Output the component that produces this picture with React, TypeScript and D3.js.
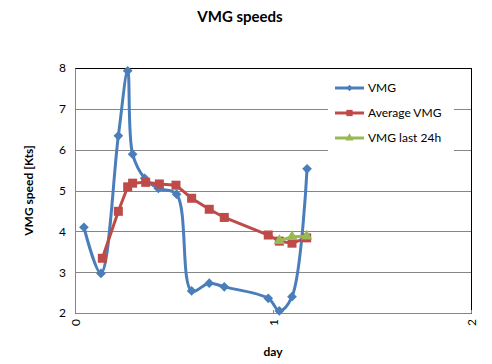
import React, { useEffect, useRef } from "react"
import * as d3 from "d3"

// VMG (smoothed)
const vmgDays = [0.045, 0.131, 0.219, 0.266, 0.291, 0.352, 0.421, 0.513, 0.589, 0.678, 0.754, 0.976, 1.032, 1.096, 1.172]
const vmgSpeeds = [4.1, 2.97, 6.34, 7.93, 5.89, 5.3, 5.05, 4.91, 2.54, 2.73, 2.64, 2.36, 2.05, 2.4, 5.53]

// Average VMG
const avgDays = [0.138, 0.219, 0.266, 0.291, 0.357, 0.426, 0.51, 0.589, 0.678, 0.754, 0.976, 1.032, 1.096, 1.17]
const avgSpeeds = [3.34, 4.49, 5.09, 5.18, 5.2, 5.16, 5.13, 4.81, 4.54, 4.34, 3.91, 3.76, 3.71, 3.84]

// VMG last 24h
const lastDays = [1.032, 1.096, 1.17]
const lastSpeeds = [3.77, 3.87, 3.88]

const yTicks = [2, 3, 4, 5, 6, 7, 8]
const xTicks = [0, 1, 2]

const colors = {
	vmg: "#4A7EBB",
	avg: "#BE4B48",
	last: "#98B954",
}

const font = "Lato, 'Open Sans', sans-serif"

const App = () => {
	const svgRef = useRef<SVGSVGElement>(null)
	const width = 492
	const height = 364

	useEffect(() => {
		const margin = { top: 68, right: 21, bottom: 51, left: 75 }
		const svg = d3.select(svgRef.current)
		svg.selectAll("*").remove()

		const x = d3
			.scaleLinear()
			.domain([0, 2])
			.range([margin.left, width - margin.right])
		const y = d3
			.scaleLinear()
			.domain([2, 8])
			.range([height - margin.bottom, margin.top])

		// title
		svg.append("text")
			.attr("x", 240)
			.attr("y", 22)
			.attr("text-anchor", "middle")
			.attr("font-family", font)
			.attr("font-weight", "bold")
			.attr("font-size", 15)
			.text("VMG speeds")

		// plot area border
		svg.append("rect")
			.attr("x", x(0))
			.attr("y", y(8))
			.attr("width", x(2) - x(0))
			.attr("height", y(2) - y(8))
			.attr("fill", "white")
			.attr("stroke", "black")
			.attr("stroke-width", 1)
			.attr("shape-rendering", "crispEdges")

		// gridlines
		svg.append("g")
			.selectAll("line")
			.data(yTicks.slice(1, -1))
			.join("line")
			.attr("x1", x(0))
			.attr("x2", x(2))
			.attr("y1", (d) => Math.round(y(d)) + 0.5)
			.attr("y2", (d) => Math.round(y(d)) + 0.5)
			.attr("stroke", "#868686")

		// axes
		svg.append("g")
			.attr("transform", `translate(${x(0)},0)`)
			.call(d3.axisLeft(y).tickValues(yTicks).tickSize(0).tickPadding(9).tickFormat(d3.format("d")))
			.call((g) => g.select(".domain").attr("stroke", "#868686"))
			.call((g) =>
				g.selectAll("text").attr("font-family", font).attr("font-size", 12).attr("fill", "black")
			)

		svg.append("g")
			.attr("transform", `translate(0,${y(2)})`)
			.call(d3.axisBottom(x).tickValues(xTicks).tickSize(-3).tickFormat(d3.format("d")))
			.call((g) => g.select(".domain").attr("stroke", "#868686"))
			.call((g) => g.selectAll("line").attr("stroke", "#868686"))
			.call((g) =>
				g.selectAll("text")
					.attr("font-family", font)
					.attr("font-size", 12)
					.attr("fill", "black")
					.attr("transform", "rotate(-90)")
					.attr("text-anchor", "end")
					.attr("x", -6)
					.attr("y", 0)
					.attr("dy", "0.35em")
			)

		// axis titles
		svg.append("text")
			.attr("transform", `translate(33,${(y(2) + y(8)) / 2}) rotate(-90)`)
			.attr("text-anchor", "middle")
			.attr("font-family", font)
			.attr("font-weight", "bold")
			.attr("font-size", 12)
			.text("VMG speed [Kts]")

		svg.append("text")
			.attr("x", x(1))
			.attr("y", 356)
			.attr("text-anchor", "middle")
			.attr("font-family", font)
			.attr("font-weight", "bold")
			.attr("font-size", 12)
			.text("day")

		const vmg = vmgDays.map((d, i) => [d, vmgSpeeds[i]])
		const avg = avgDays.map((d, i) => [d, avgSpeeds[i]])
		const last = lastDays.map((d, i) => [d, lastSpeeds[i]])

		const smooth = d3
			.line()
			.x((d) => x(d[0]))
			.y((d) => y(d[1]))
			.curve(d3.curveCatmullRom.alpha(0.5))
		const straight = d3
			.line()
			.x((d) => x(d[0]))
			.y((d) => y(d[1]))

		// VMG
		svg.append("path")
			.attr("d", smooth(vmg))
			.attr("fill", "none")
			.attr("stroke", colors.vmg)
			.attr("stroke-width", 3)
			.attr("stroke-linejoin", "round")
		svg.append("g")
			.selectAll("path")
			.data(vmg)
			.join("path")
			.attr("d", d3.symbol(d3.symbolDiamond2, 60))
			.attr("transform", (d) => `translate(${x(d[0])},${y(d[1])})`)
			.attr("fill", colors.vmg)

		// Average VMG
		svg.append("path")
			.attr("d", straight(avg))
			.attr("fill", "none")
			.attr("stroke", colors.avg)
			.attr("stroke-width", 3)
		svg.append("g")
			.selectAll("rect")
			.data(avg)
			.join("rect")
			.attr("x", (d) => x(d[0]) - 4.5)
			.attr("y", (d) => y(d[1]) - 4.5)
			.attr("width", 9)
			.attr("height", 9)
			.attr("fill", colors.avg)

		// VMG last 24h
		svg.append("path")
			.attr("d", straight(last))
			.attr("fill", "none")
			.attr("stroke", colors.last)
			.attr("stroke-width", 3)
		svg.append("g")
			.selectAll("path")
			.data(last)
			.join("path")
			.attr("d", d3.symbol(d3.symbolTriangle, 55))
			.attr("transform", (d) => `translate(${x(d[0])},${y(d[1])})`)
			.attr("fill", colors.last)

		// legend
		const legend = svg.append("g").attr("transform", "translate(328,75)")
		legend.append("rect")
			.attr("width", 126)
			.attr("height", 83)
			.attr("fill", "white")
		const items = [
			{ label: "VMG", color: colors.vmg, mark: "diamond" },
			{ label: "Average VMG", color: colors.avg, mark: "square" },
			{ label: "VMG last 24h", color: colors.last, mark: "triangle" },
		]
		const row = legend
			.selectAll("g")
			.data(items)
			.join("g")
			.attr("transform", (d, i) => `translate(0,${13 + i * 25})`)
		row.append("line")
			.attr("x1", 7)
			.attr("x2", 36)
			.attr("stroke", (d) => d.color)
			.attr("stroke-width", 3)
		row.append("path")
			.attr("transform", "translate(21.5,0)")
			.attr("d", (d) =>
				d.mark === "diamond"
					? d3.symbol(d3.symbolDiamond2, 25)()
					: d.mark === "square"
					? d3.symbol(d3.symbolSquare2, 50)()
					: d3.symbol(d3.symbolTriangle, 30)()
			)
			.attr("fill", (d) => d.color)
		row.append("text")
			.attr("x", 40)
			.attr("dy", "0.35em")
			.attr("font-family", font)
			.attr("font-size", 12)
			.text((d) => d.label)
	}, [])

	return (
		<div style={{ position: "absolute", top: 0, left: 0 }}>
			<svg ref={svgRef} width={width} height={height} style={{ display: "block" }}></svg>
		</div>
	)
}

export default App
